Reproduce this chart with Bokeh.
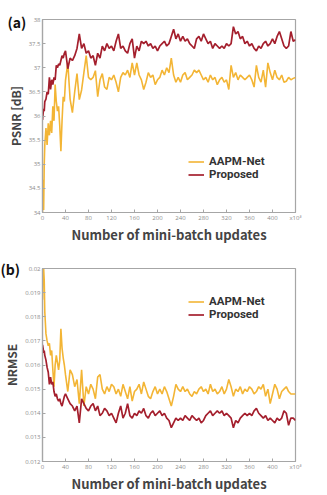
from bokeh.plotting import figure
from bokeh.layouts import column
from bokeh.models import FixedTicker, Legend, LegendItem, Range1d, Title
from bokeh.embed import file_html
from bokeh.resources import INLINE

# x positions (mini-batch updates, x10^3)
X = [0, 1, 2, 3, 4] + list(range(6, 41, 2)) + list(range(44, 441, 4))

psnr_aapm = [
    34.0, 34.68, 34.05, 35.0, 35.4,
    35.75, 35.4, 35.85, 35.6, 35.9, 35.65, 36.2, 35.9, 36.65, 36.3, 36.1, 36.2, 35.8, 35.27, 35.9, 36.4, 36.3, 36.74,
    37.1, 36.35, 36.07, 36.5, 36.88, 36.34, 36.54, 36.9, 37.25, 36.8,
    36.75, 36.8, 36.94, 36.4, 36.75, 36.88, 36.6, 36.55, 36.8, 36.75,
    36.85, 36.7, 36.5, 36.8, 36.9, 36.85, 36.95, 36.8, 37.1, 36.85,
    37.1, 36.85, 36.75, 36.55, 36.7, 36.9, 36.8, 36.85, 36.65, 36.75,
    36.8, 36.95, 36.85, 37.0, 36.9, 37.2, 36.85, 36.7, 36.8, 36.7,
    36.85, 36.9, 36.75, 36.8, 36.85, 36.95, 36.9, 36.95, 36.85, 36.75,
    36.8, 36.7, 36.85, 36.75, 36.8, 36.65, 36.75, 36.8, 36.7, 36.75,
    36.55, 37.05, 36.8, 36.9, 36.75, 36.85, 36.8, 36.75, 36.8, 36.85,
    36.75, 36.6, 37.05, 36.8, 36.7, 36.95, 36.6, 37.1, 36.9, 36.75,
    36.95, 36.8, 36.75, 36.85, 36.7, 36.72, 36.8, 36.75, 36.78, 36.8,
]

psnr_proposed = [
    35.92, 36.05, 36.15, 36.1, 36.3,
    36.35, 36.5, 36.45, 36.8, 36.55, 36.75, 36.65, 36.8, 36.75, 37.05, 37.0, 37.08, 37.05, 37.15, 37.25, 37.2, 37.3, 37.35,
    36.98, 37.2, 37.15, 37.25, 37.4, 37.7, 37.4, 37.5, 37.3, 37.35,
    37.2, 37.25, 37.05, 37.3, 37.2, 37.45, 37.35, 37.5, 37.4, 37.45,
    37.35, 37.55, 37.7, 37.4, 37.45, 37.35, 37.3, 37.5, 37.6, 37.2,
    37.45, 37.35, 37.55, 37.5, 37.55, 37.45, 37.5, 37.4, 37.45, 37.35,
    37.45, 37.5, 37.55, 37.45, 37.5, 37.65, 37.8, 37.6, 37.7, 37.55,
    37.65, 37.55, 37.6, 37.5, 37.45, 37.4, 37.6, 37.65, 37.55, 37.7,
    37.6, 37.5, 37.55, 37.4, 37.5, 37.45, 37.4, 37.45, 37.4, 37.5,
    37.45, 37.5, 37.85, 37.7, 37.75, 37.6, 37.65, 37.5, 37.55, 37.45,
    37.5, 37.4, 37.35, 37.45, 37.4, 37.5, 37.55, 37.45, 37.5, 37.6,
    37.5, 37.65, 37.75, 37.6, 37.45, 37.4, 37.45, 37.75, 37.55, 37.58,
]

nrmse_aapm = [
    0.0187, 0.0205, 0.0200, 0.0195, 0.0182,
    0.0173, 0.0170, 0.0168, 0.0169, 0.0164, 0.0166, 0.0158, 0.0151, 0.0160, 0.0164, 0.0161, 0.0158, 0.0162, 0.0175, 0.0167, 0.0163, 0.0160, 0.0156,
    0.0149, 0.0158, 0.0156, 0.0151, 0.0154, 0.0144, 0.0158, 0.0143, 0.0151, 0.0148,
    0.0152, 0.0150, 0.0146, 0.0155, 0.0156, 0.0150, 0.0148, 0.0151, 0.0149, 0.0152,
    0.0151, 0.0148, 0.0150, 0.0147, 0.0152, 0.0149, 0.0146, 0.0151, 0.0145, 0.0149,
    0.0150, 0.0152, 0.0148, 0.0153, 0.0150, 0.0147, 0.0146, 0.0149, 0.0151, 0.0148,
    0.0150, 0.0148, 0.0151, 0.0149, 0.0146, 0.0143, 0.0147, 0.0152, 0.0150, 0.0149,
    0.0151, 0.0149, 0.0150, 0.0148, 0.0147, 0.0149, 0.0148, 0.0150, 0.0151, 0.0149,
    0.0150, 0.0148, 0.0152, 0.0149, 0.0150, 0.0148, 0.0149, 0.0151, 0.0148, 0.0150,
    0.0154, 0.0151, 0.0147, 0.0150, 0.0149, 0.0151, 0.0148, 0.0150, 0.0149, 0.0151,
    0.0150, 0.0148, 0.0149, 0.0151, 0.0150, 0.0152, 0.0147, 0.0150, 0.0144, 0.0148,
    0.0152, 0.0150, 0.0146, 0.0149, 0.0150, 0.0151, 0.0149, 0.0148, 0.0148, 0.0148,
]

nrmse_proposed = [
    0.01683, 0.0167, 0.0165, 0.0166, 0.0164,
    0.0162, 0.0159, 0.0157, 0.0152, 0.0155, 0.0152, 0.0153, 0.0149, 0.0147, 0.0148, 0.0146, 0.0145, 0.0146, 0.0144, 0.0143, 0.0145, 0.0147, 0.0148,
    0.0146, 0.0144, 0.0143, 0.0141, 0.0143, 0.0136, 0.0146, 0.0144, 0.0142, 0.0141,
    0.0143, 0.0144, 0.0141, 0.0143, 0.0139, 0.0140, 0.0142, 0.0141, 0.0139, 0.0140,
    0.0138, 0.0136, 0.0140, 0.0143, 0.0138, 0.0140, 0.0144, 0.0139, 0.0138, 0.0140,
    0.0139, 0.0141, 0.0140, 0.0142, 0.0139, 0.0138, 0.0140, 0.0141, 0.0139, 0.0140,
    0.0141, 0.0139, 0.0140, 0.0138, 0.0137, 0.0134, 0.0136, 0.0138, 0.0137, 0.0138,
    0.0137, 0.0139, 0.0138, 0.0137, 0.0139, 0.0138, 0.0137, 0.0138, 0.0136, 0.0137,
    0.0139, 0.0140, 0.0141, 0.0139, 0.0140, 0.0141, 0.0140, 0.0141, 0.0139, 0.0140,
    0.0139, 0.0138, 0.0134, 0.0137, 0.0136, 0.0138, 0.0139, 0.0140, 0.0139, 0.0140,
    0.0139, 0.0141, 0.0142, 0.0140, 0.0139, 0.0138, 0.0139, 0.0137, 0.0138, 0.0137,
    0.0136, 0.0138, 0.0137, 0.0138, 0.0141, 0.0140, 0.0135, 0.0138, 0.0138, 0.0137,
]

x_ticks = [0, 40, 80, 120, 160, 200, 240, 280, 320, 360, 400, 440]
x_tick_labels = ["0", "40", "80", "120", "160", "200", "240", "280", "320", "360", "400", "x10\u00b3"]
psnr_ticks = [34, 34.5, 35, 35.5, 36, 36.5, 37, 37.5, 38]
psnr_tick_labels = ["34", "34.5", "35", "35.5", "36", "36.5", "37", "37.5", "38"]
nrmse_ticks = [0.012, 0.013, 0.014, 0.015, 0.016, 0.017, 0.018, 0.019, 0.02]
nrmse_tick_labels = ["0.012", "0.013", "0.014", "0.015", "0.016", "0.017", "0.018", "0.019", "0.02"]

series_names = ["AAPM-Net", "Proposed"]
YELLOW = "#F3B535"
RED = "#A41F2D"
GRID_GRAY = "#A6A6A6"
TICK_GRAY = "#8C8C8C"
TITLE_GRAY = "#444444"
FONT = "Noto Sans CJK KR"
LEGEND_FONT = "Roboto"


def legend_for(renderer, name, vy):
    return Legend(items=[LegendItem(label=name, renderers=[renderer])],
                  location=(146, vy), border_line_color=None,
                  background_fill_alpha=0, padding=0, margin=0, spacing=0,
                  glyph_width=16, glyph_height=11, label_height=11, label_standoff=5,
                  label_text_font=LEGEND_FONT, label_text_font_size="11.5px",
                  label_text_font_style="bold", label_text_color="#333333")


def make_panel(y_aapm, y_prop, y_lo, y_hi, yticks, ylabels, ylabel, tag,
               height, border_top, border_bottom, legend_ys, tag_offset, tag_standoff):
    p = figure(width=319, height=height, output_backend="svg", toolbar_location=None,
               x_range=Range1d(0, 440), y_range=Range1d(y_lo, y_hi),
               min_border_left=42, min_border_right=24,
               min_border_top=border_top, min_border_bottom=border_bottom)
    p.grid.visible = False
    p.outline_line_color = GRID_GRAY
    p.outline_line_width = 1.2
    p.background_fill_color = "white"
    p.border_fill_color = "white"

    r1 = p.line(X, y_aapm, line_color=YELLOW, line_width=1.6)
    r2 = p.line(X, y_prop, line_color=RED, line_width=1.7)

    for ax in (p.xaxis[0], p.yaxis[0]):
        ax.axis_line_color = GRID_GRAY
        ax.axis_line_width = 1.2
        ax.major_tick_line_color = GRID_GRAY
        ax.major_tick_in = 3
        ax.major_tick_out = 0
        ax.minor_tick_line_color = None
        ax.major_label_text_font = "Open Sans"
        ax.major_label_text_font_size = "6px"
        ax.major_label_text_color = TICK_GRAY
        ax.major_label_standoff = 2
        ax.axis_label_text_font = FONT
        ax.axis_label_text_font_style = "bold"
        ax.axis_label_text_color = TITLE_GRAY

    p.xaxis.ticker = FixedTicker(ticks=x_ticks)
    p.xaxis.major_label_overrides = dict(zip(x_ticks, x_tick_labels))
    p.xaxis.axis_label = "Number of mini-batch updates"
    p.xaxis.axis_label_text_font_size = "13px"
    p.xaxis.major_label_standoff = 1
    p.xaxis.axis_label_standoff = 0

    p.yaxis.ticker = FixedTicker(ticks=yticks)
    p.yaxis.major_label_overrides = dict(zip(yticks, ylabels))
    p.yaxis.axis_label = ylabel
    p.yaxis.axis_label_text_font_size = "12px"
    p.yaxis.axis_label_standoff = 2

    p.add_layout(legend_for(r1, series_names[0], legend_ys[0]))
    p.add_layout(legend_for(r2, series_names[1], legend_ys[1]))

    p.add_layout(Title(text=tag, align="left", vertical_align="bottom",
                       offset=tag_offset, standoff=tag_standoff,
                       text_font=FONT, text_font_size="14px", text_font_style="bold",
                       text_color="#111111"), "above")
    return p


p1 = make_panel(psnr_aapm, psnr_proposed, 34, 38, psnr_ticks, psnr_tick_labels,
                "PSNR [dB]", "(a)", 246, 19, 28, (44, 31), -35, -24)
p2 = make_panel(nrmse_aapm, nrmse_proposed, 0.012, 0.02, nrmse_ticks, nrmse_tick_labels,
                "NRMSE", "(b)", 249, 22, 28, (153, 140), -42, -20)

layout = column(p1, p2, spacing=0)
open("out.html", "w").write(file_html(layout, INLINE))
